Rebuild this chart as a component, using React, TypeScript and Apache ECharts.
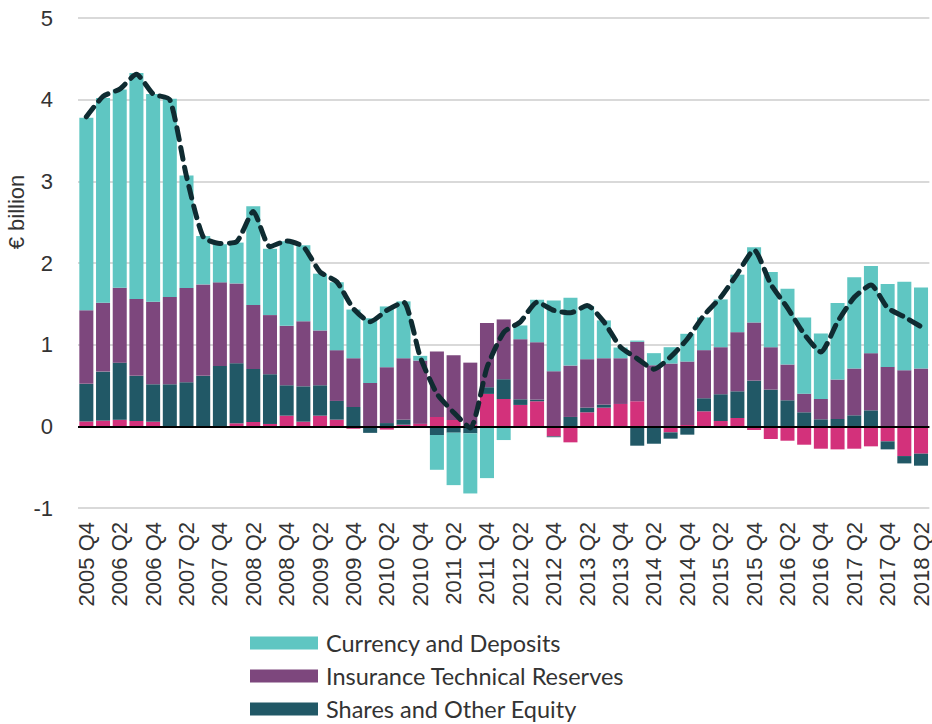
import React, { useEffect, useRef } from "react";
import * as echarts from "echarts";

const categories = [
  "2005 Q4",
  "2006 Q1", "2006 Q2", "2006 Q3", "2006 Q4",
  "2007 Q1", "2007 Q2", "2007 Q3", "2007 Q4",
  "2008 Q1", "2008 Q2", "2008 Q3", "2008 Q4",
  "2009 Q1", "2009 Q2", "2009 Q3", "2009 Q4",
  "2010 Q1", "2010 Q2", "2010 Q3", "2010 Q4",
  "2011 Q1", "2011 Q2", "2011 Q3", "2011 Q4",
  "2012 Q1", "2012 Q2", "2012 Q3", "2012 Q4",
  "2013 Q1", "2013 Q2", "2013 Q3", "2013 Q4",
  "2014 Q1", "2014 Q2", "2014 Q3", "2014 Q4",
  "2015 Q1", "2015 Q2", "2015 Q3", "2015 Q4",
  "2016 Q1", "2016 Q2", "2016 Q3", "2016 Q4",
  "2017 Q1", "2017 Q2", "2017 Q3", "2017 Q4",
  "2018 Q1", "2018 Q2",
];

const otherAssets = [
  0.06, 0.07, 0.08, 0.065, 0.057, 0, -0.02, 0, 0, 0.037, 0.053, 0.029, 0.131,
  0.057, 0.131, 0.082, -0.03, 0, -0.04, 0.02, 0.03, 0.115, 0.078, 0.02, 0.397,
  0.335, 0.262, 0.307, -0.123, -0.196, 0.172, 0.229, 0.274, 0.307, 0, -0.074,
  0.016, 0.184, 0.065, 0.102, -0.045, -0.155, -0.176, -0.225, -0.274, -0.282,
  -0.274, -0.245, -0.184, -0.364, -0.335,
];

const sharesEquity = [
  0.46, 0.6, 0.7, 0.553, 0.458, 0.515, 0.54, 0.618, 0.74, 0.736, 0.65, 0.609,
  0.372, 0.433, 0.372, 0.229, 0.237, -0.08, 0.04, 0.062, 0, -0.106, -0.078,
  -0.086, 0.082, 0.242, 0.069, 0.02, -0.01, 0.115, 0.057, 0.037, 0, -0.237,
  -0.213, -0.077, -0.102, 0.16, 0.328, 0.327, 0.56, 0.45, 0.319, 0.172, 0.086,
  0.09, 0.135, 0.196, -0.098, -0.09, -0.147,
];

const insuranceReserves = [
  0.9, 0.842, 0.916, 0.94, 1.011, 1.068, 1.153, 1.12, 1.023, 0.977, 0.782,
  0.724, 0.728, 0.798, 0.671, 0.622, 0.597, 0.532, 0.684, 0.752, 0.776, 0.801,
  0.793, 0.76, 0.785, 0.732, 0.736, 0.703, 0.675, 0.629, 0.593, 0.568, 0.56,
  0.728, 0.748, 0.769, 0.777, 0.589, 0.576, 0.724, 0.712, 0.519, 0.438, 0.228,
  0.249, 0.483, 0.573, 0.7, 0.728, 0.687, 0.708,
];

const currencyDeposits = [
  2.36, 2.507, 2.427, 2.77, 2.544, 2.427, 1.377, 0.592, 0.467, 0.5, 1.21,
  0.814, 1.035, 0.929, 0.695, 0.83, 0.596, 0.793, 0.744, 0.696, 0.057, -0.426,
  -0.642, -0.736, -0.634, -0.168, 0.168, 0.52, 0.867, 0.831, 0.65, 0.463,
  0.131, 0.015, 0.148, 0.2, 0.34, 0.4, 0.585, 0.704, 0.92, 0.921, 0.928, 0.933,
  0.802, 0.936, 1.116, 1.067, 1.014, 1.084, 0.993,
];

const totalFlow = [
  3.79, 4.04, 4.13, 4.31, 4.07, 4.0, 3.06, 2.32, 2.24, 2.26, 2.63, 2.2, 2.27,
  2.2, 1.89, 1.77, 1.44, 1.28, 1.42, 1.52, 0.85, 0.4, 0.17, -0.02, 0.72, 1.15,
  1.28, 1.52, 1.42, 1.39, 1.48, 1.28, 0.97, 0.83, 0.7, 0.85, 1.07, 1.36, 1.58,
  1.87, 2.16, 1.74, 1.45, 1.13, 0.91, 1.28, 1.58, 1.73, 1.45, 1.34, 1.22,
];

const yTicks = { min: -1, max: 5, interval: 1 };

const COLORS = {
  cyan: "#5fc6c2",
  purple: "#7d477d",
  teal: "#215866",
  pink: "#d3317b",
  line: "#0f2b31",
};

export default function App() {
  const ref = useRef<HTMLDivElement>(null);

  useEffect(() => {
    if (!ref.current) return;
    const chart = echarts.init(ref.current, undefined, { renderer: "svg" });
    const barBase = {
      type: "bar" as const,
      stack: "total",
      barCategoryGap: "16%",
    };
    chart.setOption({
      animation: false,
      backgroundColor: "#ffffff",
      grid: { left: 78, right: 0, top: 18, bottom: 216, containLabel: false },
      legend: {
        orient: "vertical",
        left: 250,
        top: 631,
        height: 100,
        padding: 0,
        itemWidth: 68,
        itemHeight: 13,
        itemGap: 9,
        icon: "rect",
        data: ["Currency and Deposits", "Insurance Technical Reserves", "Shares and Other Equity"],
        textStyle: { fontFamily: "Lato", fontSize: 23.5, color: "#333333", padding: [0, 0, 0, 3] },
      },
      xAxis: {
        type: "category",
        data: categories,
        axisLine: { show: false, onZero: false },
        axisTick: { show: false },
        axisLabel: {
          rotate: 90,
          interval: 1,
          margin: 14,
          fontFamily: "Liberation Sans",
          fontSize: 22,
          color: "#333333",
        },
      },
      yAxis: {
        type: "value",
        min: yTicks.min,
        max: yTicks.max,
        interval: yTicks.interval,
        axisLine: { show: false },
        axisTick: { show: false },
        splitLine: { lineStyle: { color: "#d9d9d9", width: 2 } },
        axisLabel: {
          margin: 25,
          fontFamily: "Liberation Sans",
          fontSize: 22,
          color: "#333333",
        },
      },
      graphic: [
        {
          type: "text",
          x: 16,
          y: 212,
          rotation: Math.PI / 2,
          style: {
            text: "€ billion",
            fontFamily: "Liberation Sans",
            fontSize: 22,
            fill: "#333333",
            textAlign: "center",
            textVerticalAlign: "middle",
          },
        },
      ],
      series: [
        { ...barBase, name: "Other", data: otherAssets, itemStyle: { color: COLORS.pink } },
        { ...barBase, name: "Shares and Other Equity", data: sharesEquity, itemStyle: { color: COLORS.teal } },
        { ...barBase, name: "Insurance Technical Reserves", data: insuranceReserves, itemStyle: { color: COLORS.purple } },
        { ...barBase, name: "Currency and Deposits", data: currencyDeposits, itemStyle: { color: COLORS.cyan } },
        {
          type: "line",
          name: "Total",
          data: totalFlow,
          smooth: 0.2,
          symbol: "none",
          z: 5,
          lineStyle: { color: COLORS.line, width: 5, type: [12, 8], cap: "round" },
          markLine: {
            silent: true,
            symbol: ["none", "none"],
            label: { show: false },
            lineStyle: { color: "#000000", width: 2, type: "solid" },
            data: [{ yAxis: 0 }],
          },
        },
      ],
    });
    return () => chart.dispose();
  }, []);

  return (
    <div
      ref={ref}
      style={{ position: "fixed", left: 0, top: 0, width: 932, height: 724 }}
    />
  );
}
